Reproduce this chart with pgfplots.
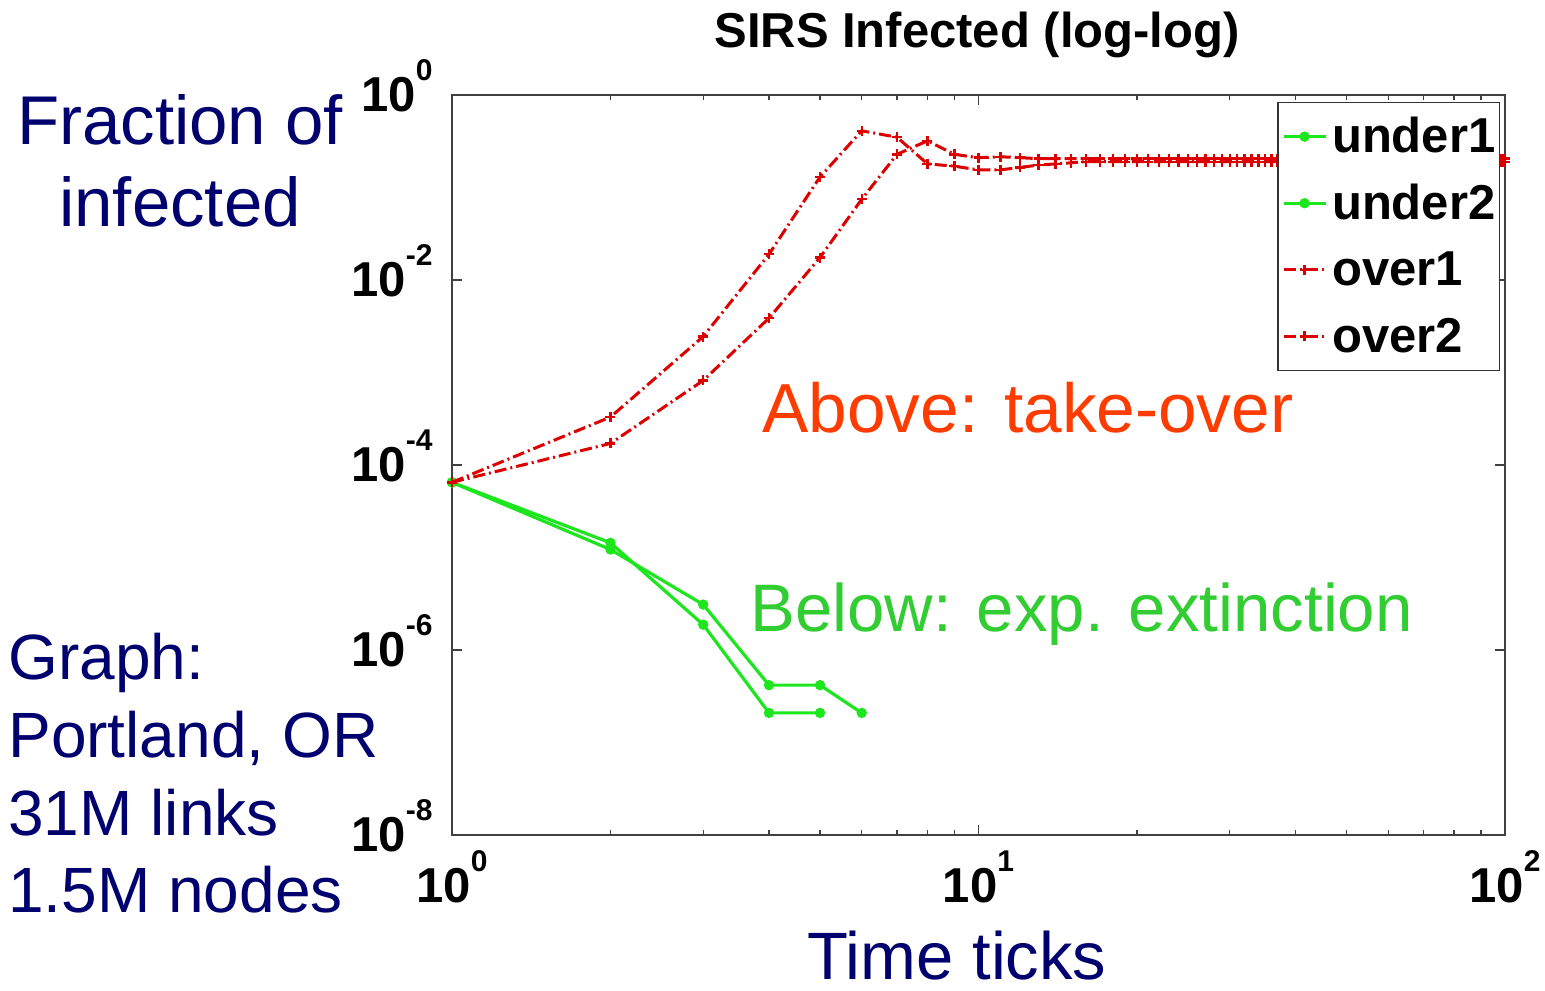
\documentclass[border=0pt]{standalone}
\usepackage{pgfplots}
\usepackage{pgfplotstable}
\pgfplotsset{compat=1.18}
\usepackage{fontspec}
\setmainfont{Liberation Sans}
\definecolor{navyt}{RGB}{0,0,110}
\definecolor{aboveor}{RGB}{255,60,0}
\definecolor{belowgr}{RGB}{50,205,50}
\definecolor{lgreen}{RGB}{30,230,30}
\definecolor{lred}{RGB}{220,0,0}
\newcommand{\tl}[1]{\fontsize{24.5}{24.5}\selectfont\bfseries 10\smash{\raisebox{15.5pt}{\fontsize{15}{15}\selectfont\bfseries #1}}}

\pgfplotstableread{
x o1 o2
1 6.5e-5 6.5e-5
2 3.3e-4 1.71e-4
3 2.45e-3 8.2e-4
4 0.019 3.87e-3
5 0.13 0.0175
6 0.41 0.0746
7 0.35 0.228
8 0.18 0.32
9 0.17 0.228
10 0.155 0.21
11 0.155 0.215
12 0.165 0.21
13 0.175 0.205
14 0.18 0.205
15 0.185 0.205
16 0.19 0.205
17 0.19 0.205
18 0.19 0.205
19 0.19 0.205
20 0.19 0.205
21 0.19 0.205
22 0.19 0.205
23 0.19 0.205
24 0.19 0.205
25 0.19 0.205
26 0.19 0.205
27 0.19 0.205
28 0.19 0.205
29 0.19 0.205
30 0.19 0.205
31 0.19 0.205
32 0.19 0.205
33 0.19 0.205
34 0.19 0.205
35 0.19 0.205
36 0.19 0.205
37 0.19 0.205
38 0.19 0.205
39 0.19 0.205
40 0.19 0.205
41 0.19 0.205
42 0.19 0.205
43 0.19 0.205
44 0.19 0.205
45 0.19 0.205
46 0.19 0.205
47 0.19 0.205
48 0.19 0.205
49 0.19 0.205
50 0.19 0.205
51 0.19 0.205
52 0.19 0.205
53 0.19 0.205
54 0.19 0.205
55 0.19 0.205
56 0.19 0.205
57 0.19 0.205
58 0.19 0.205
59 0.19 0.205
60 0.19 0.205
61 0.19 0.205
62 0.19 0.205
63 0.19 0.205
64 0.19 0.205
65 0.19 0.205
66 0.19 0.205
67 0.19 0.205
68 0.19 0.205
69 0.19 0.205
70 0.19 0.205
71 0.19 0.205
72 0.19 0.205
73 0.19 0.205
74 0.19 0.205
75 0.19 0.205
76 0.19 0.205
77 0.19 0.205
78 0.19 0.205
79 0.19 0.205
80 0.19 0.205
81 0.19 0.205
82 0.19 0.205
83 0.19 0.205
84 0.19 0.205
85 0.19 0.205
86 0.19 0.205
87 0.19 0.205
88 0.19 0.205
89 0.19 0.205
90 0.19 0.205
91 0.19 0.205
92 0.19 0.205
93 0.19 0.205
94 0.19 0.205
95 0.19 0.205
96 0.19 0.205
97 0.19 0.205
98 0.19 0.205
99 0.19 0.205
100 0.19 0.205
}\overdata

\pgfplotstableread{
x y
1 6.5e-5
2 1.44e-5
3 1.88e-6
4 2.09e-7
5 2.09e-7
}\underone

\pgfplotstableread{
x y
1 6.5e-5
2 1.22e-5
3 3.1e-6
4 4.17e-7
5 4.17e-7
6 2.09e-7
}\undertwo

\begin{document}
\begin{tikzpicture}
\path[use as bounding box] (0pt,0pt) rectangle (772.5pt,495pt);
\begin{axis}[
  at={(226pt,77.5pt)}, anchor=south west,
  scale only axis, width=526.5pt, height=370pt,
  xmode=log, ymode=log,
  xmin=1, xmax=100, ymin=1e-8, ymax=1,
  xtick={1,10,100},
  xticklabels={\tl{0},\tl{1},\tl{2}},
  ytick={1e-8,1e-6,1e-4,1e-2,1},
  yticklabels={\tl{-8},\tl{-6},\tl{-4},\tl{-2},\tl{0}},
  yminorticks=false,
  tick align=inside,
  major tick length=5pt, minor tick length=2.5pt,
  every tick/.style={black!75, line width=0.6pt},
  axis line style={black!75, line width=0.8pt},
  x tick label style={anchor=north, inner sep=0pt, yshift=-16.5pt},
  y tick label style={anchor=east, inner sep=0pt, xshift=-9.5pt},
  clip mode=individual,
  legend style={at={(0.9953,0.9905)}, anchor=north east,
    draw=black!80, line width=0.6pt, fill=white,
    inner xsep=2pt, inner ysep=7pt, row sep=13.3pt, column sep=2.5pt,
    font=\fontsize{24.5}{24.5}\selectfont\bfseries,
    nodes={inner sep=0pt, text height=18pt, text depth=2pt}},
  legend cell align=left,
  legend image code/.code={\draw[mark repeat=2,mark phase=2,#1] plot coordinates {(0pt,0pt) (10.5pt,0pt) (21pt,0pt)};},
]
\addplot[lgreen, line width=1.6pt, mark=*, mark size=1.75pt] table[x=x,y=y] {\underone};
\addlegendentry{under1}
\addplot[lgreen, line width=1.6pt, mark=*, mark size=1.75pt] table[x=x,y=y] {\undertwo};
\addlegendentry{under2}
\addplot[lred, line width=1.5pt, dash pattern=on 6pt off 2pt on 1pt off 2pt, mark=+, mark size=2.5pt, mark options={solid, line width=1.2pt}] table[x=x,y=o1] {\overdata};
\addlegendentry{over1}
\addplot[lred, line width=1.5pt, dash pattern=on 6pt off 2pt on 1pt off 2pt, mark=+, mark size=2.5pt, mark options={solid, line width=1.2pt}] table[x=x,y=o2] {\overdata};
\addlegendentry{over2}
\end{axis}
\node[anchor=base, font=\fontsize{24.5}{24.5}\selectfont\bfseries, inner sep=0pt] at (488.5pt,471pt) {SIRS Infected (log-log)};
\node[anchor=base, font=\fontsize{34.5}{34.5}\selectfont, text=navyt, inner sep=0pt] at (90pt,422.5pt) {Fraction of};
\node[anchor=base, font=\fontsize{34.5}{34.5}\selectfont, text=navyt, inner sep=0pt] at (90pt,381.5pt) {infected};
\node[anchor=base west, font=\fontsize{32}{32}\selectfont, text=navyt, inner sep=0pt] at (4pt,155pt) {Graph:};
\node[anchor=base west, font=\fontsize{32}{32}\selectfont, text=navyt, inner sep=0pt] at (4pt,116.5pt) {Portland, OR};
\node[anchor=base west, font=\fontsize{32}{32}\selectfont, text=navyt, inner sep=0pt] at (4pt,77.5pt) {31M links};
\node[anchor=base west, font=\fontsize{32}{32}\selectfont, text=navyt, inner sep=0pt] at (4pt,39pt) {1.5M nodes};
\node[anchor=base, font=\fontsize{33.5}{33.5}\selectfont, text=navyt, inner sep=0pt] at (478.5pt,5.5pt) {Time ticks};
\node[anchor=base west, font=\fontsize{34.7}{34.7}\selectfont, text=aboveor, inner sep=0pt] at (381pt,278.5pt) {Above: take-over};
\node[anchor=base west, font=\fontsize{33.6}{33.6}\selectfont, text=belowgr, inner sep=0pt] at (375pt,179.25pt) {Below: exp. extinction};
\end{tikzpicture}
\end{document}
